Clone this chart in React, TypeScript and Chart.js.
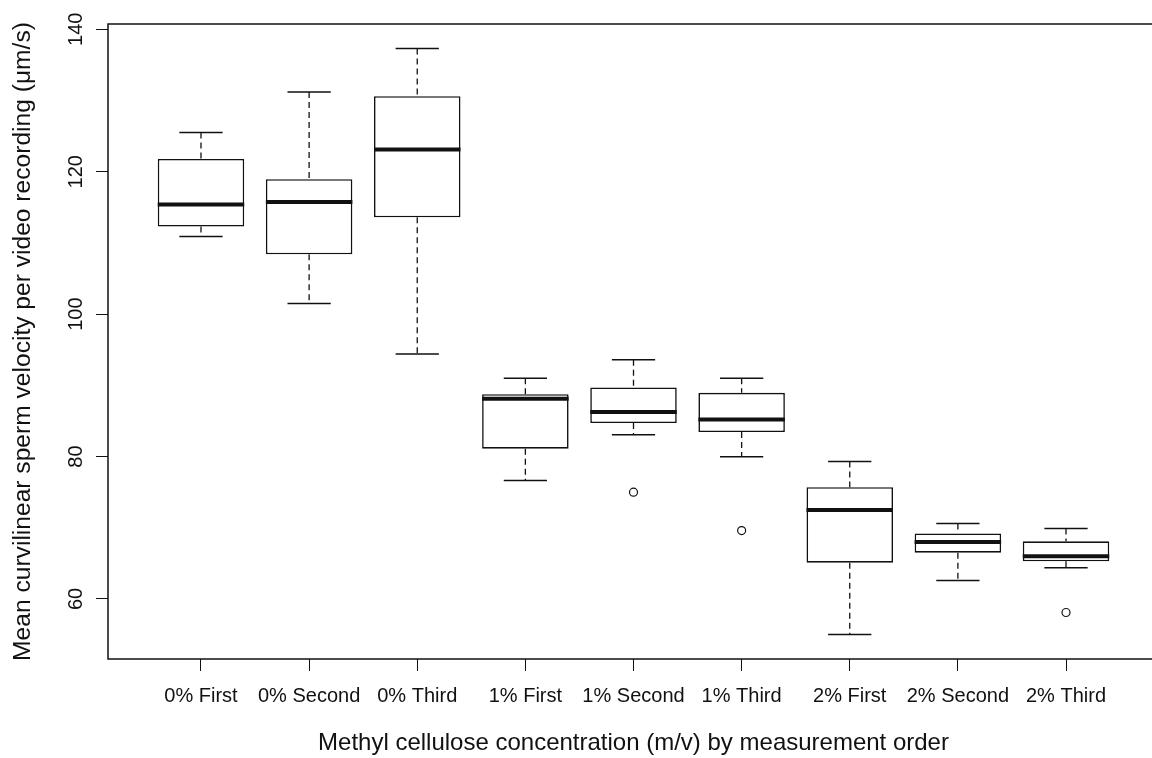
import React, { useEffect, useRef } from 'react';
import { Chart, registerables } from 'chart.js';

Chart.register(...registerables);

const categories = [
  '0% First', '0% Second', '0% Third',
  '1% First', '1% Second', '1% Third',
  '2% First', '2% Second', '2% Third',
];
const whiskerLow = [110.9, 101.5, 94.4, 76.65, 83.06, 79.97, 55.0, 62.6, 64.4];
const q1 = [112.3, 108.4, 113.6, 81.1, 84.7, 83.44, 65.1, 66.5, 65.3];
const median = [115.4, 115.76, 123.1, 88.1, 86.25, 85.2, 72.5, 68.0, 66.0];
const q3 = [121.8, 118.95, 130.6, 88.76, 89.7, 88.95, 75.7, 69.2, 68.1];
const whiskerHigh = [125.5, 131.2, 137.3, 91.0, 93.6, 91.0, 79.3, 70.6, 69.9];
const outlierGroup = [5, 6, 9];
const outlierValue = [75.0, 69.6, 58.1];
const yTicks = [60, 80, 100, 120, 140];

const xTitle = 'Methyl cellulose concentration (m/v) by measurement order';
const yTitle = 'Mean curvilinear sperm velocity per video recording (\u03bcm/s)';

const FONT = '"Liberation Sans", Arial, Helvetica, sans-serif';
const INK = '#111';

const boxExtras = {
  id: 'boxExtras',
  afterDatasetsDraw(chart: any) {
    const { ctx, chartArea, scales } = chart;
    const x = scales.x;
    const y = scales.y;
    const meta = chart.getDatasetMeta(0);
    ctx.save();
    ctx.strokeStyle = INK;
    ctx.lineCap = 'butt';
    for (let i = 0; i < categories.length; i++) {
      const cx = x.getPixelForValue(i + 1);
      const capL = x.getPixelForValue(i + 1 - 0.2);
      const capR = x.getPixelForValue(i + 1 + 0.2);
      const yHi = y.getPixelForValue(whiskerHigh[i]);
      const yLo = y.getPixelForValue(whiskerLow[i]);
      const yQ1 = y.getPixelForValue(q1[i]);
      const yQ3 = y.getPixelForValue(q3[i]);
      const yMed = y.getPixelForValue(median[i]);
      // dashed whiskers
      ctx.lineWidth = 1.3;
      ctx.setLineDash([6, 4]);
      ctx.beginPath();
      ctx.moveTo(cx, yHi);
      ctx.lineTo(cx, yQ3);
      ctx.moveTo(cx, yQ1);
      ctx.lineTo(cx, yLo);
      ctx.stroke();
      ctx.setLineDash([]);
      // staples
      ctx.lineWidth = 1.5;
      ctx.beginPath();
      ctx.moveTo(capL, yHi);
      ctx.lineTo(capR, yHi);
      ctx.moveTo(capL, yLo);
      ctx.lineTo(capR, yLo);
      ctx.stroke();
      // median
      const el = meta.data[i];
      const half = el.width / 2;
      ctx.lineWidth = 4;
      ctx.beginPath();
      ctx.moveTo(el.x - half, yMed);
      ctx.lineTo(el.x + half, yMed);
      ctx.stroke();
    }
    // plot frame
    ctx.lineWidth = 1.5;
    ctx.strokeRect(chartArea.left, chartArea.top, chartArea.right - chartArea.left, chartArea.bottom - chartArea.top);
    // rotated y tick labels (R style, parallel to the axis)
    ctx.fillStyle = INK;
    ctx.font = `20px ${FONT}`;
    ctx.textAlign = 'center';
    ctx.textBaseline = 'alphabetic';
    for (const v of yTicks) {
      const py = y.getPixelForValue(v);
      ctx.save();
      ctx.translate(chartArea.left - 26.5, py);
      ctx.rotate(-Math.PI / 2);
      ctx.fillText(String(v), 0, 0);
      ctx.restore();
    }
    ctx.restore();
  },
};

export default function App() {
  const ref = useRef<HTMLCanvasElement>(null);
  useEffect(() => {
    if (!ref.current) return;
    const chart = new Chart(ref.current, {
      type: 'bar',
      data: {
        datasets: [
          {
            type: 'bar',
            data: categories.map((_, i) => ({ x: i + 1, y: [q1[i], q3[i]] })) as any,
            backgroundColor: '#ffffff',
            borderColor: INK,
            borderWidth: 1.6,
            borderSkipped: false,
            barPercentage: 0.8,
            categoryPercentage: 1.0,
          } as any,
          {
            type: 'scatter',
            data: outlierGroup.map((g, i) => ({ x: g, y: outlierValue[i] })),
            pointRadius: 4,
            pointHoverRadius: 4,
            pointBackgroundColor: 'rgba(0,0,0,0)',
            pointBorderColor: INK,
            pointBorderWidth: 1.2,
            showLine: false,
          } as any,
        ],
      },
      plugins: [boxExtras],
      options: {
        animation: false,
        responsive: false,
        devicePixelRatio: 1,
        events: [],
        layout: { padding: { top: 24, left: 0, right: 21, bottom: 0 } },
        plugins: { legend: { display: false }, tooltip: { enabled: false }, title: { display: false } },
        scales: {
          x: {
            type: 'linear',
            min: 0.14,
            max: 9.86,
            offset: false,
            afterBuildTicks: (scale: any) => {
              scale.ticks = categories.map((_, i) => ({ value: i + 1 }));
            },
            afterFit: (scale: any) => {
              scale.height = 99;
            },
            grid: { offset: false, drawOnChartArea: false, drawTicks: true, tickLength: 12, color: INK, lineWidth: 1 },
            border: { display: false },
            ticks: {
              autoSkip: false,
              maxRotation: 0,
              minRotation: 0,
              padding: 13,
              color: INK,
              font: { family: FONT, size: 20 },
              callback: (v: any) => categories[Math.round(Number(v)) - 1] ?? '',
            },
            title: {
              display: true,
              text: xTitle,
              color: INK,
              font: { family: FONT, size: 24 },
              padding: { top: 0, bottom: 0 },
            },
          },
          y: {
            type: 'linear',
            min: 51.57,
            max: 140.74,
            afterBuildTicks: (scale: any) => {
              scale.ticks = yTicks.map((v) => ({ value: v }));
            },
            afterFit: (scale: any) => {
              scale.width = 108;
            },
            grid: { offset: false, drawOnChartArea: false, drawTicks: true, tickLength: 12, color: INK, lineWidth: 1 },
            border: { display: false },
            ticks: { display: false },
            title: {
              display: true,
              text: yTitle,
              color: INK,
              font: { family: FONT, size: 24.6 },
              padding: { top: 8, bottom: 0 },
            },
          },
        },
      } as any,
    });
    return () => chart.destroy();
  }, []);
  return (
    <div style={{ position: 'fixed', left: 0, top: 0, width: 1152, height: 758, overflow: 'hidden', background: '#fff' }}>
      <canvas ref={ref} width={1180} height={758} style={{ display: 'block' }} />
    </div>
  );
}
